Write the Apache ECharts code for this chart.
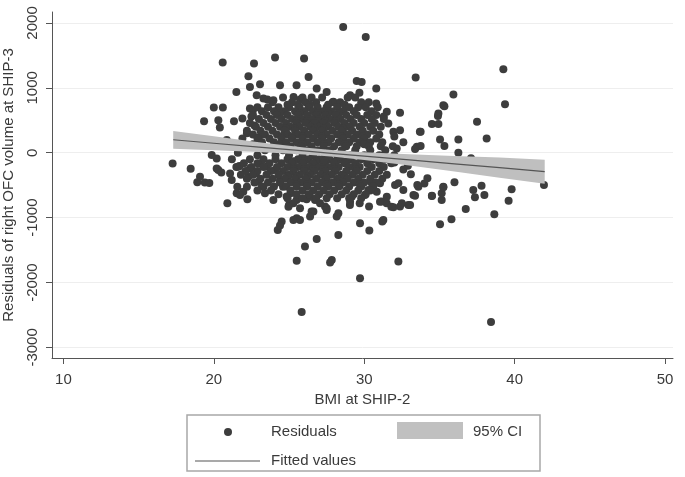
<!DOCTYPE html>
<html>
<head>
<meta charset="utf-8">
<script src="https://cdn.jsdelivr.net/npm/echarts@6/dist/echarts.min.js"></script>
<style>
html,body{margin:0;padding:0;background:#fff;}
#chart{width:685px;height:477px;}
</style>
</head>
<body>
<div id="chart"></div>
<script>
// ---- data ----
const xTicks = [10, 20, 30, 40, 50];
const yTicks = [-3000, -2000, -1000, 0, 1000, 2000];

// scattered / peripheral residual points [BMI, residual]
const outerPoints = [
[17.26,-165],[18.46,-245],[18.9,-456],[19.08,-370],[19.4,-460],[19.7,-468],[19.35,487],[20.0,697],[20.6,697],
[20.59,1390],[20.3,502],[20.4,390],[21.34,487],[21.9,528],[22.4,682],[22.6,656],[22.3,1179],[22.67,1374],
[21.5,938],[22.4,1015],[22.85,887],[23.56,820],[23.07,1056],[24.07,1466],[24.4,1041],[25.5,1041],[26.0,1451],
[26.3,1169],[26.84,990],[27.5,938],[25.3,861],[25.73,820],[27.95,784],[23.3,835],[23.96,810],[28.6,1938],
[30.1,1784],[29.5,1107],[29.83,1092],[29.06,887],[29.68,923],[30.8,990],[30.8,759],[31.5,630],[32.38,615],
[32.38,348],[33.7,323],[31.6,451],[31.94,323],[33.42,1159],[35.26,733],[34.93,606],[34.9,565],[34.5,442],
[34.93,442],[35.33,718],[35.93,898],[37.5,477],[33.75,324],[35.04,206],[35.33,103],[36.26,206],[38.14,221],
[36.26,0],[33.5,93],[33.75,103],[33.38,57],[32.16,67],[37.1,-86],[39.25,1288],[39.36,749],
[20.86,195],[21.6,0],[19.86,-36],[20.19,-87],[20.19,-241],[20.3,-266],[20.5,-303],[21.08,-318],[21.19,-420],
[21.63,-215],[21.56,-523],[21.96,-600],[22.23,-717],[21.52,-625],[21.74,-650],[20.9,-779],[22.3,-370],
[22.2,-523],[21.7,-205],[22.4,-241],[23.07,-164],[23.5,-215],[22.8,-318],[22.96,-446],[23.3,-523],[23.4,-626],
[24.07,-267],[24.4,-420],[24.6,-523],[25.1,-626],[24.84,-676],[25.0,-805],[25.5,-728],[25.29,-779],
[25.51,-1010],[25.29,-1035],[24.51,-1061],[24.25,-1189],[24.4,-1120],[26.06,-1446],[25.51,-1666],[26.84,-1328],
[27.84,-1651],[27.73,-1692],[28.28,-1266],[25.84,-2456],[26.5,-907],[26.73,-728],[26.17,-717],[27.39,-830],
[28.28,-933],[28.17,-984],[26.62,-907],[26.4,-984],[25.73,-1035],[29.05,-805],[29.17,-677],[28.35,-512],
[27.5,-856],[27.06,-779],[30.27,-574],[30.5,-471],[30.05,-651],[31.05,-471],[30.83,-600],[32.05,-497],
[32.27,-471],[30.32,-830],[29.72,-1087],[30.34,-1200],[29.72,-1933],[31.49,-779],[31.16,-753],[31.27,-1035],
[31.2,-1061],[32.93,-805],[32.38,-830],[31.94,-840],[32.27,-1676],[33.27,-651],[34.5,-667],[35.15,-626],
[34.0,-472],[33.6,-523],[35.26,-523],[32.6,-575],[32.5,-780],[33.05,-805],[31.8,-831],[31.05,-754],[31.5,-677],
[29.7,-780],[29.06,-754],[27.5,-882],[26.4,-677],[25.73,-856],[24.96,-831],[23.96,-728],[34.2,-394],
[33.53,-497],[33.38,-661],[34.5,-661],[35.26,-533],[35.15,-728],[35.8,-1025],[35.04,-1102],[36.0,-456],
[36.75,-866],[37.25,-574],[37.36,-687],[37.8,-507],[37.99,-651],[38.65,-948],[38.43,-2610],[39.6,-738],
[39.8,-564],[41.95,-497],[32.0,-150],[32.6,-260],[33.1,-330],[32.9,-200],[32.0,250],[32.6,160],[31.3,560],
[22.2,300],[22.7,420],[23.0,240],[22.5,560]
];

// dense core, rows of [residual, BMI values]
const coreRows = [
[850,[24.6,25.9,26.5,27.2,28.9,29.4]],
[780,[23.9,25.2,26.1,26.8,27.9,28.4,29.8,30.3]],
[740,[24.9,25.6,26.4,27.6,28.7]],
[700,[22.9,23.6,24.3,25.0,25.7,26.3,26.9,27.5,28.2,29.0,29.6,30.1,30.9]],
[640,[23.2,24.0,24.7,25.4,26.0,26.6,27.3,27.8,28.6,29.3,30.5]],
[610,[24.4,25.7,26.9,27.6,28.3]],
[580,[22.6,23.5,24.2,24.9,25.6,26.2,26.8,27.4,28.1,28.8,29.5,30.2,30.8]],
[520,[23.0,23.8,24.5,25.2,25.8,26.5,27.1,27.7,28.4,29.1,29.8,30.5,31.3]],
[490,[25.5,26.2,26.9,27.4,28.1]],
[460,[22.4,23.3,24.1,24.8,25.5,26.1,26.7,27.3,28.0,28.7,29.3,30.0,30.7]],
[400,[22.8,23.6,24.4,25.1,25.7,26.4,27.0,27.6,28.3,29.0,29.7,30.4,31.1]],
[370,[24.8,25.4,26.7,27.3,28.6]],
[340,[22.2,23.1,23.9,24.7,25.4,26.0,26.6,27.2,27.9,28.5,29.2,29.9,30.6]],
[280,[22.6,23.4,24.2,24.9,25.6,26.3,26.9,27.5,28.2,28.9,29.5,30.2,31.0]],
[250,[24.5,25.2,25.9,27.2,28.5,29.9]],
[220,[21.9,22.9,23.7,24.5,25.2,25.9,26.6,27.2,27.8,28.6,29.3,30.0,30.8]],
[160,[23.2,24.0,24.8,25.5,26.2,26.9,27.6,28.3,29.0,29.7,30.4,31.2]],
[130,[22.6,24.4,25.9,27.3,28.7,30.0]],
[100,[24.4,25.1,25.8,26.5,27.3,28.0,28.8,29.5,30.3,31.1,31.9]],
[40,[23.4,24.6,25.5,26.2,26.9,27.7,28.5,29.4,30.4,31.4]],
[-40,[22.9,24.1,25.0,25.9,26.6,27.4,28.2,29.1,30.0,31.0,32.0]],
[-100,[21.2,22.4,23.3,24.1,24.9,25.6,26.3,27.0,27.7,28.4,29.1,29.8,30.6,31.4,32.2]],
[-130,[25.3,26.0,26.8,27.4,28.1,28.8]],
[-160,[22.0,22.9,23.7,24.5,25.2,25.9,26.6,27.3,28.0,28.7,29.4,30.2,31.0,31.8]],
[-220,[21.5,22.5,23.3,24.2,24.9,25.6,26.3,27.0,27.6,28.3,29.0,29.7,30.5,31.3]],
[-250,[25.3,26.0,26.6,27.3,28.0,29.4]],
[-280,[22.1,22.9,23.8,24.6,25.3,26.0,26.7,27.4,28.1,28.8,29.5,30.2,31.0]],
[-340,[21.8,22.6,23.5,24.3,25.0,25.7,26.4,27.1,27.8,28.5,29.2,29.9,30.7,31.5]],
[-370,[24.9,25.5,26.2,27.4,28.7]],
[-400,[22.2,23.1,23.9,24.7,25.4,26.1,26.8,27.5,28.2,28.9,29.6,30.4,31.2]],
[-460,[22.7,23.6,24.4,25.1,25.8,26.5,27.2,27.9,28.6,29.3,30.0,30.8]],
[-490,[25.5,26.2,27.5,28.3,29.7]],
[-520,[23.2,24.0,24.8,25.5,26.2,26.9,27.6,28.3,29.0,29.8,30.6]],
[-580,[22.9,23.8,25.1,25.9,26.6,27.3,28.0,28.8,29.6,30.4]],
[-640,[24.3,25.5,26.3,27.0,27.7,28.5,29.3,30.1]],
[-700,[24.9,25.9,26.8,27.5,28.2,29.0,29.8]]
];

// fitted line and 95% CI
const fitBmi    = [17.3, 20, 23, 26, 28, 30, 33, 36, 39, 42];
const fitValues = [200, 146, 87, 28, -12, -51, -111, -170, -230, -290];
const ciLower   = [60, 38, 11, -26, -62, -110, -197, -290, -386, -478];
const ciUpper   = [335, 255, 163, 82, 38, 8, -25, -50, -74, -108];

// ---- build ----
const residualData = outerPoints.concat(
  coreRows.flatMap(([r, xs]) => xs.map(x => [x, r]))
);
const bandData = fitBmi.map((x, i) => [x, ciLower[i], ciUpper[i]]);
const fitData  = fitBmi.map((x, i) => [x, fitValues[i]]);

const FONT = '"Liberation Sans", Arial, sans-serif';
const TXT = '#3a3a3a';
const AX = '#555';

const chart = echarts.init(document.getElementById('chart'), null, {renderer: 'canvas'});
chart.setOption({
  animation: false,
  backgroundColor: '#fff',
  grid: {left: 52, right: 12, top: 12, bottom: 119, containLabel: false, outerBoundsMode: 'none'},
  xAxis: {
    type: 'value', min: 9.24, max: 50.53,
    name: 'BMI at SHIP-2', nameLocation: 'middle', nameGap: 33,
    nameTextStyle: {fontFamily: FONT, fontSize: 15, color: TXT},
    axisLine: {show: true, onZero: false, lineStyle: {color: AX, width: 1}},
    axisTick: {show: true, length: 6, customValues: xTicks, lineStyle: {color: AX}},
    axisLabel: {customValues: xTicks, margin: 14, fontFamily: FONT, fontSize: 15, color: TXT},
    splitLine: {show: false}
  },
  yAxis: {
    type: 'value', min: -3163, max: 2169,
    name: 'Residuals of right OFC volume at SHIP-3', nameLocation: 'middle', nameGap: 36, nameRotate: 90,
    nameTextStyle: {fontFamily: FONT, fontSize: 15, color: TXT},
    axisLine: {show: true, onZero: false, lineStyle: {color: AX, width: 1}},
    axisTick: {show: true, length: 6, customValues: yTicks, lineStyle: {color: AX}},
    axisLabel: {customValues: yTicks, rotate: 90, margin: 12, fontFamily: FONT, fontSize: 15, color: TXT,
                formatter: v => String(v)},
    splitLine: {show: true, lineStyle: {color: '#eeeeee', width: 1}}
  },
  series: [
    {
      name: 'Residuals', type: 'scatter', data: residualData, z: 2,
      symbol: 'circle', symbolSize: 8,
      itemStyle: {color: '#3d3d3d', opacity: 1}
    },
    {
      name: '95% CI', type: 'custom', data: bandData, z: 3, silent: true,
      renderItem: function (params, api) {
        if (params.dataIndex !== 0) return null;
        const pts = [];
        bandData.forEach(d => pts.push(api.coord([d[0], d[2]])));
        for (let i = bandData.length - 1; i >= 0; i--) pts.push(api.coord([bandData[i][0], bandData[i][1]]));
        return {type: 'polygon', shape: {points: pts}, style: {fill: '#bfbfbf'}};
      },
      encode: {x: 0, y: [1, 2]}
    },
    {
      name: 'Fitted values', type: 'line', data: fitData, z: 4,
      symbol: 'none', lineStyle: {color: '#555', width: 1.2}
    }
  ],
  graphic: [
    {type: 'rect', shape: {x: 187, y: 415, width: 353, height: 56},
     style: {fill: '#fff', stroke: '#a8a8a8', lineWidth: 1.5}},
    {type: 'circle', shape: {cx: 228, cy: 432, r: 4}, style: {fill: '#3d3d3d'}},
    {type: 'text', x: 271, y: 432, style: {text: 'Residuals', font: '15px ' + FONT, fill: TXT, verticalAlign: 'middle'}},
    {type: 'rect', shape: {x: 397, y: 422, width: 66, height: 17}, style: {fill: '#c0c0c0'}},
    {type: 'text', x: 473, y: 432, style: {text: '95% CI', font: '15px ' + FONT, fill: TXT, verticalAlign: 'middle'}},
    {type: 'line', shape: {x1: 195, y1: 461, x2: 260, y2: 461}, style: {stroke: '#555', lineWidth: 1.2}},
    {type: 'text', x: 271, y: 461, style: {text: 'Fitted values', font: '15px ' + FONT, fill: TXT, verticalAlign: 'middle'}}
  ]
});
</script>
</body>
</html>
